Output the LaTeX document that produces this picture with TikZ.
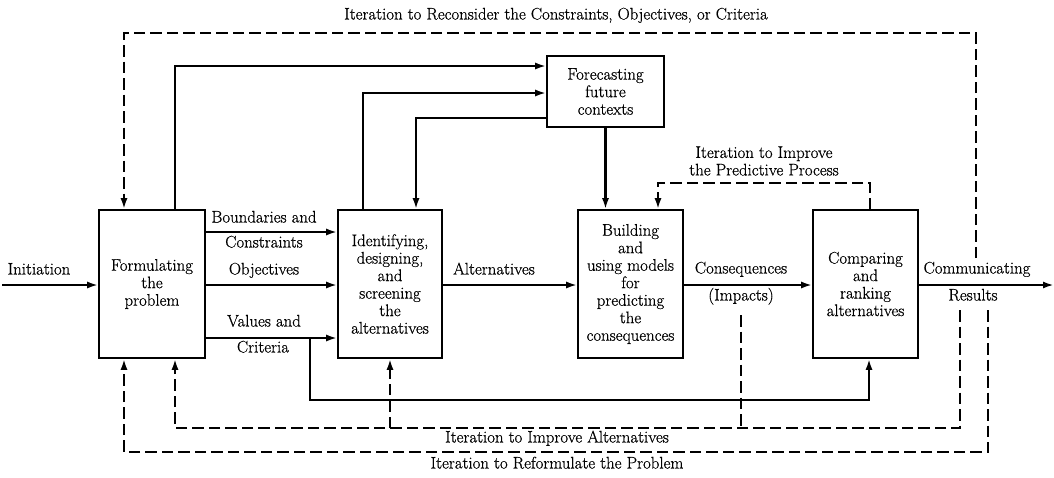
\documentclass[tikz,border=0pt]{standalone}
\usepackage{fontspec}
\newfontfamily\labelfont{Latin Modern Roman}[FakeBold=0.6]
\usetikzlibrary{arrows.meta}
\begin{document}
\begin{tikzpicture}[x=1pt,y=-1pt,
  txt/.style={font=\labelfont\fontsize{16.8}{17.5}\selectfont, inner sep=0pt},
  lbl/.style={txt, text height=0.72em, text depth=0.22em},
  proc/.style={draw, line width=1.6pt, txt, align=center, minimum height=148pt},
  flow/.style={line width=2.8pt, -{Latex[length=11pt,width=7pt]}},
  loop/.style={line width=2.8pt, dash pattern=on 11.5pt off 5pt, -{Latex[length=11pt,width=7pt]}},
  loopline/.style={line width=2.8pt, dash pattern=on 11.5pt off 5pt}]
\useasboundingbox (0,0) rectangle (1054,477);

% process boxes
\node[proc, minimum width=106pt] (form) at (152,284) {Formulating\\the\\problem};
\node[proc, minimum width=104pt] (ident) at (390,284) {Identifying,\\designing,\\and\\screening\\the\\alternatives};
\node[proc, minimum width=117pt, minimum height=71pt] (fore) at (605.5,91.5) {Forecasting\\future\\contexts};
\node[proc, minimum width=105pt] (build) at (630.5,284) {Building\\and\\using models\\for\\predicting\\the\\consequences};
\node[proc, minimum width=105pt] (comp) at (865.5,284) {Comparing\\and\\ranking\\alternatives};

% free ends of connectors
\coordinate (start) at (2,285);
\coordinate (finish) at (1054,285);
\coordinate (crit) at (310,338);
\coordinate (reconsider) at (976,258);
\coordinate (impacts) at (741,315);
\coordinate (impactsjoin) at (741,428);
\coordinate (altback) at (960,310);
\coordinate (reformback) at (988,310);

% main flow
\draw[flow] (start) -- (form.west |- start);
\draw[flow] (form.east |- 0,232) -- (ident.west |- 0,232);
\draw[flow] (form.east |- 0,285) -- (ident.west |- 0,285);
\draw[flow] (form.east |- 0,338) -- (ident.west |- 0,338);
\draw[flow] (ident.east |- 0,285) -- (build.west |- 0,285);
\draw[flow] (build.east |- 0,285) -- (comp.west |- 0,285);
\draw[flow] (comp.east |- 0,285) -- (finish);

% forecasting links
\draw[flow] (form.north -| 175,0) |- (fore.west |- 0,66);
\draw[flow] (ident.north -| 363,0) |- (fore.west |- 0,93);
\draw[flow] (fore.west |- 0,118) -| (ident.north -| 416,0);
\draw[flow] (fore.south) -- (build.north -| fore.south);

% criteria to comparison
\draw[flow] (crit) |- (869,400) -- (comp.south -| 869,0);

% iteration loops
\draw[loop] (reconsider) |- (124,33) -- (form.north -| 124,0);
\draw[loop] (comp.north -| 870,0) |- (658,183) -- (build.north -| 658,0);
\draw[loop] (altback) |- (175,428) -- (form.south -| 175,0);
\draw[loop] (ident.south |- 0,428) -- (ident.south);
\draw[loopline] (impacts) -- (impactsjoin);
\draw[loop] (reformback) |- (124,452) -- (form.south -| 124,0);

% labels
\node[lbl] (l1) at (556,17) {Iteration to Reconsider the Constraints, Objectives, or Criteria};
\node[txt, align=center] (l2) at (764,161) {Iteration to Improve\\the Predictive Process};
\node[lbl] (l3) at (557,440) {Iteration to Improve Alternatives};
\node[lbl] (l4) at (557,466) {Iteration to Reformulate the Problem};
\node[lbl] (l5) at (39,272) {Initiation};
\node[lbl] (l6) at (264,220) {Boundaries and};
\node[lbl] (l7) at (264,245) {Constraints};
\node[lbl] (l8) at (264,272) {Objectives};
\node[lbl] (l9) at (264,324) {Values and};
\node[lbl] (l10) at (263,350) {Criteria};
\node[lbl] (l11) at (494,272) {Alternatives};
\node[lbl] (l12) at (741,271) {Consequences};
\node[lbl] (l13) at (741,298) {(Impacts)};
\node[lbl] (l14) at (977,271) {Communicating};
\node[lbl] (l15) at (973,298) {Results};
\end{tikzpicture}
\end{document}
